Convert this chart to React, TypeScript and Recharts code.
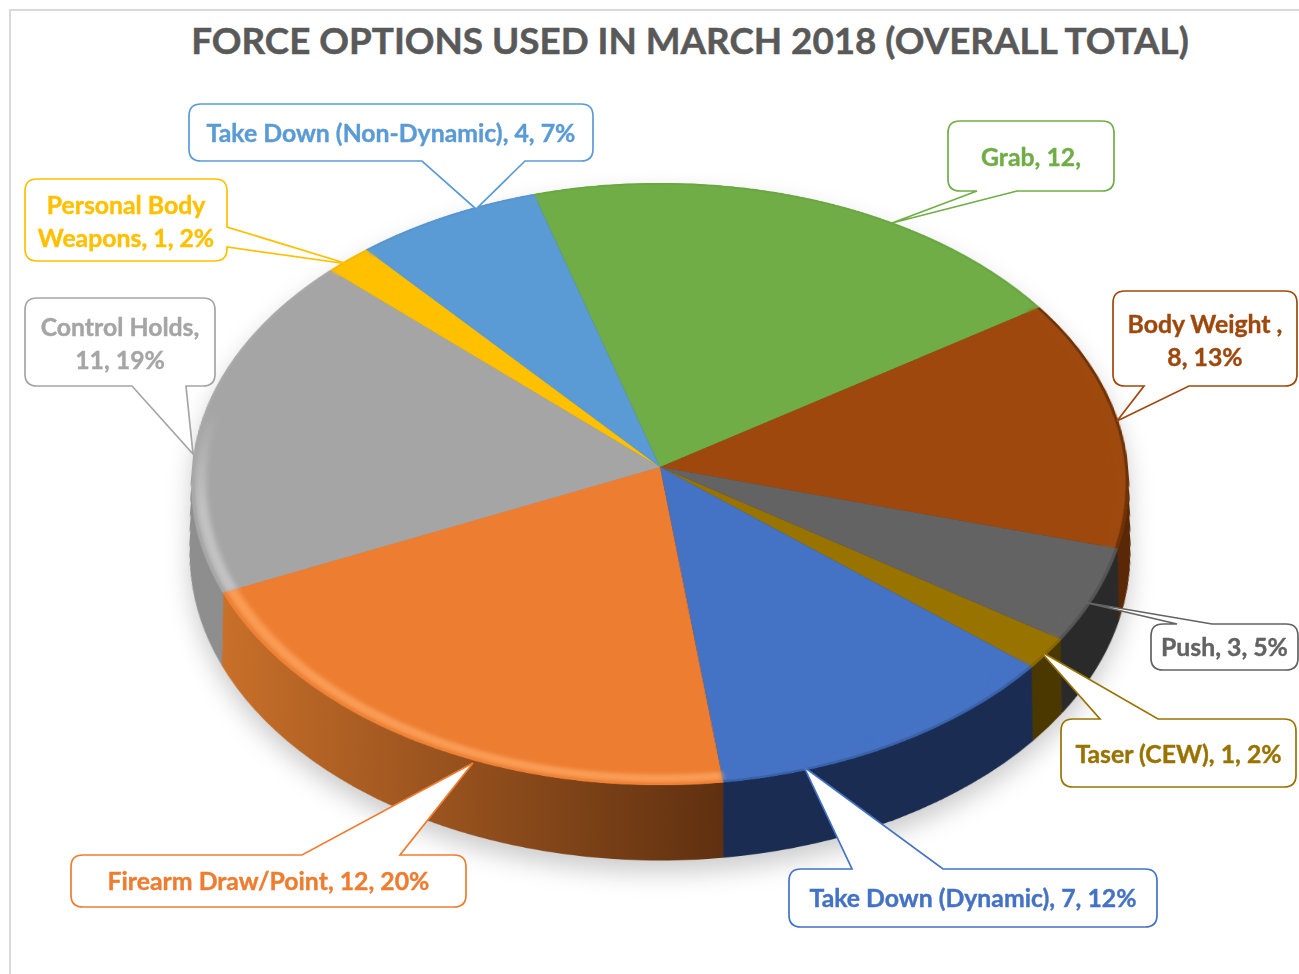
import React from 'react';
import { PieChart, Pie, Cell } from 'recharts';

const categories = ['Grab', 'Body Weight', 'Push', 'Taser (CEW)', 'Take Down (Dynamic)', 'Firearm Draw/Point', 'Control Holds', 'Personal Body Weapons', 'Take Down (Non-Dynamic)'];
const values = [12, 8, 3, 1, 7, 12, 11, 1, 4];
const labelLines = [
  ['Grab, 12,'],
  ['Body Weight ,', '8, 13%'],
  ['Push, 3, 5%'],
  ['Taser (CEW), 1, 2%'],
  ['Take Down (Dynamic), 7, 12%'],
  ['Firearm Draw/Point, 12, 20%'],
  ['Control Holds,', '11, 19%'],
  ['Personal Body', 'Weapons, 1, 2%'],
  ['Take Down (Non-Dynamic), 4, 7%'],
];

const TOP_COLORS = ['#70ad47', '#9e480e', '#636363', '#997300', '#4472c4', '#ed7d31', '#a5a5a5', '#ffc000', '#5b9bd5'];
// side wall, left to right
const SIDE_COLORS = [
  ['#4a7530', '#4a7530'],
  ['#6a2f08', '#5a2806'],
  ['#2a2a2a', '#2a2a2a'],
  ['#4a3800', '#4a3800'],
  ['#1a2c52', '#1a2c52'],
  ['#c9702a', '#5f3010'],
  ['#8e8e8e', '#8a8a8a'],
  ['#aa8000', '#aa8000'],
  ['#3d6d99', '#3d6d99'],
];
const RIM_EDGE = ['#6ba544', '#6e3208', '#555555', '#8a6800', '#3a62a8', '#ee8236', '#a8a8a8', '#f5b800', '#5795cd'];
const RIM_GLOW = ['#70ad47', '#9e480e', '#636363', '#997300', '#4472c4', '#f99c55', 'url(#greyRim)', '#ffc000', '#5b9bd5'];

// callout geometry, in page pixels
type Callout = { x: number; y: number; w: number; h: number; side: 'top' | 'bottom' | 'right'; a: number; b: number; tipX: number; tipY: number; textY: number[] };
const callouts: Callout[] = [
  { x: 948, y: 121, w: 166, h: 70, side: 'bottom', a: 977, b: 1017, tipX: 892, tipY: 223, textY: [156] },
  { x: 1113, y: 291, w: 184, h: 95, side: 'bottom', a: 1144, b: 1189, tipX: 1117, tipY: 421, textY: [323, 356] },
  { x: 1151, y: 624, w: 147, h: 46, side: 'top', a: 1177, b: 1212, tipX: 1083, tipY: 602, textY: [646] },
  { x: 1061, y: 719, w: 235, h: 68, side: 'top', a: 1100, b: 1158, tipX: 1040, tipY: 651, textY: [753] },
  { x: 789, y: 869, w: 368, h: 58, side: 'top', a: 852, b: 943, tipX: 804, tipY: 767, textY: [897] },
  { x: 71, y: 855, w: 395, h: 52, side: 'top', a: 302, b: 400, tipX: 473, tipY: 763, textY: [880] },
  { x: 25, y: 298, w: 190, h: 88, side: 'bottom', a: 132, b: 186, tipX: 193, tipY: 454, textY: [326, 359] },
  { x: 25, y: 179, w: 202, h: 82, side: 'right', a: 227, b: 247, tipX: 348, tipY: 264, textY: [204, 237] },
  { x: 189, y: 104, w: 404, h: 57, side: 'bottom', a: 422, b: 525, tipX: 476, tipY: 209, textY: [132] },
];

const FONT = 'Lato, "Noto Sans", sans-serif';
const SIZE = 1000;
const R = 468;
const START = 106.5;
const LAYERS = Array.from({ length: 37 }, (_, i) => 36 - i);
const data = categories.map((name, i) => ({ name, value: values[i] }));

function calloutPath(c: Callout) {
  const r = 12;
  const { x, y, w, h, a, b, tipX: tx, tipY: ty } = c;
  const rt = x + w;
  const bt = y + h;
  const top = c.side === 'top' ? `L${a} ${y} L${tx} ${ty} L${b} ${y} ` : '';
  const right = c.side === 'right' ? `L${rt} ${a} L${tx} ${ty} L${rt} ${b} ` : '';
  const bottom = c.side === 'bottom' ? `L${b} ${bt} L${tx} ${ty} L${a} ${bt} ` : '';
  return `M${x + r} ${y} ${top}L${rt - r} ${y} Q${rt} ${y} ${rt} ${y + r} ${right}L${rt} ${bt - r} Q${rt} ${bt} ${rt - r} ${bt} ${bottom}L${x + r} ${bt} Q${x} ${bt} ${x} ${bt - r} L${x} ${y + r} Q${x} ${y} ${x + r} ${y} Z`;
}

const renderCallout = (props: any) => {
  const i = props.index;
  const c = callouts[i];
  return (
    <g key={categories[i]}>
      <path d={calloutPath(c)} fill="#fff" stroke={TOP_COLORS[i]} strokeWidth={1.7} />
      {labelLines[i].map((line, j) => (
        <text key={line} x={c.x + c.w / 2} y={c.textY[j]} textAnchor="middle" dominantBaseline="central"
          fill={TOP_COLORS[i]} stroke={TOP_COLORS[i]} strokeWidth={0.4} fontFamily={FONT} fontWeight={700} fontSize={24.8}>
          {line}
        </text>
      ))}
    </g>
  );
};

export default function App() {
  return (
    <div style={{ position: 'absolute', left: 0, top: 0, width: 1299, height: 974, background: '#fff', overflow: 'hidden' }}>
      <div style={{ position: 'absolute', left: 9, top: 9, width: 1290, height: 965, borderLeft: '2px solid #d9d9d9', borderTop: '2px solid #d9d9d9' }} />
      <div style={{ position: 'absolute', left: 0, width: 1380, top: 15, textAlign: 'center', color: '#595959', fontFamily: FONT, fontWeight: 700, fontSize: 36.8, lineHeight: '50px', whiteSpace: 'nowrap', WebkitTextStroke: '0.5px #595959' }}>
        FORCE OPTIONS USED IN MARCH 2018 (OVERALL TOTAL)
      </div>

      <div style={{ position: 'absolute', left: 0, top: 0, width: 1299, height: 974, filter: 'drop-shadow(0 12px 12px rgba(0,0,0,0.2))' }}>
        <div style={{ position: 'absolute', left: 160, top: -33, width: SIZE, height: SIZE + 240, transformOrigin: '500px 500px', transform: 'perspective(6354px) rotateX(50.1deg)' }}>
          <PieChart width={SIZE} height={SIZE + 240} margin={{ top: 0, right: 0, bottom: 0, left: 0 }}>
            <defs>
              {SIDE_COLORS.map((pair, i) => (
                <linearGradient key={i} id={`side-${i}`} x1="0" y1="0" x2="1" y2="0">
                  <stop offset="0%" stopColor={pair[0]} />
                  <stop offset="100%" stopColor={pair[1]} />
                </linearGradient>
              ))}
              <linearGradient id="greyRim" x1="0" y1="0" x2="0" y2="1">
                <stop offset="45%" stopColor="#a5a5a5" />
                <stop offset="75%" stopColor="#c2c2c2" />
              </linearGradient>
              <filter id="soft" x="-10%" y="-10%" width="120%" height="120%">
                <feGaussianBlur stdDeviation="2.5" />
              </filter>
            </defs>
            {LAYERS.map(k => (
              <Pie key={k} data={data} dataKey="value" cx={500} cy={500 + k * 3} outerRadius={R - k * 0.13} startAngle={START} endAngle={START - 360}
                stroke="none" isAnimationActive={false}>
                {data.map((d, i) => (
                  <Cell key={d.name} fill={k === 0 ? TOP_COLORS[i] : `url(#side-${i})`} stroke="none" />
                ))}
              </Pie>
            ))}
            <Pie data={data} dataKey="value" cx={500} cy={500} innerRadius={R - 15} outerRadius={R - 4} startAngle={START} endAngle={START - 360} stroke="none" isAnimationActive={false}>
              {data.map((d, i) => <Cell key={d.name} fill={RIM_GLOW[i]} stroke="none" filter="url(#soft)" />)}
            </Pie>
            <Pie data={data} dataKey="value" cx={500} cy={500} innerRadius={R - 3} outerRadius={R} startAngle={START} endAngle={START - 360} stroke="none" isAnimationActive={false}>
              {data.map((d, i) => <Cell key={d.name} fill={RIM_EDGE[i]} stroke="none" />)}
            </Pie>
          </PieChart>
        </div>
      </div>

      <div style={{ position: 'absolute', left: 0, top: 0 }}>
        <PieChart width={1299} height={974}>
          <Pie data={data} dataKey="value" cx={660} cy={467} outerRadius={1} fill="none" stroke="none" label={renderCallout} labelLine={false} isAnimationActive={false} />
        </PieChart>
      </div>
    </div>
  );
}
